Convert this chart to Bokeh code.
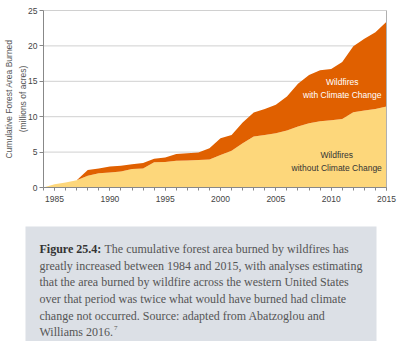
from bokeh.plotting import figure
from bokeh.models import ColumnDataSource, Range1d, FixedTicker, LinearAxis
from bokeh.embed import file_html
from bokeh.resources import INLINE
from bokeh.core.properties import value

# ---- data (millions of acres, cumulative) ----
years = list(range(1984, 2016))
without_cc = [0, 0.47, 0.7, 1.04, 1.65, 2.0, 2.13, 2.27, 2.6, 2.7, 3.55, 3.6,
              3.78, 3.83, 3.88, 3.97, 4.58, 5.2, 6.24, 7.19, 7.42, 7.66, 8.04,
              8.6, 9.08, 9.36, 9.5, 9.69, 10.64, 10.87, 11.1, 11.44]
with_cc = [0, 0.47, 0.7, 1.04, 2.46, 2.7, 2.98, 3.07, 3.3, 3.45, 4.07, 4.25,
           4.73, 4.82, 4.96, 5.53, 6.95, 7.42, 9.17, 10.6, 11.1, 11.7, 12.86,
           14.65, 15.9, 16.55, 16.74, 17.73, 19.95, 21.0, 21.94, 23.4]
y_ticks = [0, 5, 10, 15, 20, 25]
x_ticks = [1985, 1990, 1995, 2000, 2005, 2010, 2015]
series_labels = ["Wildfires\nwithout Climate Change", "Wildfires\nwith Climate Change"]

caption_head = "Figure 25.4:"
caption_lines = [
    "The cumulative forest area burned by wildfires has",
    "greatly increased between 1984 and 2015, with analyses estimating",
    "that the area burned by wildfire across the western United States",
    "over that period was twice what would have burned had climate",
    "change not occurred. Source: adapted from Abatzoglou and",
    "Williams 2016.",
]
caption_note = "7"

extra = [t - w for t, w in zip(with_cc, without_cc)]
src = ColumnDataSource(dict(year=years, without=without_cc, extra=extra))

# chart box geometry in canvas pixels
W, H = 400, 341
FL, FR, FT, FB = 43, 386, 10, 187
X0, X1, Y0, Y1 = years[0], years[-1], y_ticks[0], y_ticks[-1]
SX = (X1 - X0) / (FR - FL)
SY = (Y1 - Y0) / (FB - FT)

def dx(px):
    return X0 + (px - FL) * SX

def dy(py):
    return Y0 + (FB - py) * SY

p = figure(width=W, height=H,
           x_range=Range1d(dx(0), dx(W)), y_range=Range1d(dy(H), dy(0)),
           x_axis_location=None, y_axis_location=None,
           output_backend="svg", toolbar_location=None,
           min_border=0, min_border_left=0, min_border_right=0,
           min_border_top=0, min_border_bottom=0)
p.grid.visible = False
p.outline_line_color = None
p.background_fill_color = "white"
p.border_fill_color = "white"

# grid lines (behind the areas)
p.segment(x0=[X0] * 5, x1=[X1] * 5, y0=y_ticks[1:], y1=y_ticks[1:],
          line_color="#d0d0d0", line_width=1)
p.varea_stack(["without", "extra"], x="year", source=src, color=["#FDD77B", "#E06000"])
# right border of the chart box
p.segment(x0=[X1], x1=[X1], y0=[Y0], y1=[Y1], line_color="#b0b0b0", line_width=1)

SANS = "Liberation Sans"
xaxis = LinearAxis(fixed_location=Y0, bounds=(X0, X1),
                   ticker=FixedTicker(ticks=x_ticks, minor_ticks=years))
yaxis = LinearAxis(fixed_location=X0, bounds=(Y0, Y1),
                   ticker=FixedTicker(ticks=y_ticks))
for ax in (xaxis, yaxis):
    ax.axis_line_color = "#888888"
    ax.major_tick_line_color = "#888888"
    ax.minor_tick_line_color = "#888888"
    ax.major_tick_in = 0
    ax.minor_tick_in = 0
    ax.major_label_text_font = SANS
    ax.major_label_text_font_size = "8.5px"
    ax.major_label_text_color = "#444444"
xaxis.major_tick_out = 3
xaxis.minor_tick_out = 3
xaxis.major_label_standoff = 5
yaxis.major_tick_out = 4
yaxis.minor_tick_out = 0
yaxis.major_label_standoff = 2
yaxis.axis_label = "Cumulative Forest Area Burned\n(millions of acres)"
yaxis.axis_label_text_font = SANS
yaxis.axis_label_text_font_size = "8.5px"
yaxis.axis_label_text_font_style = "normal"
yaxis.axis_label_text_color = "#555555"
yaxis.axis_label_text_line_height = 1.4
yaxis.axis_label_standoff = -3
p.add_layout(xaxis, "below")
p.add_layout(yaxis, "left")

p.text(x=[2010.5], y=[3.7], text=[series_labels[0]], text_align="center",
       text_baseline="middle", text_font=value(SANS), text_font_size="8.5px",
       text_color="#333333", text_line_height=1.3)
p.text(x=[2011.0], y=[14.0], text=[series_labels[1]], text_align="center",
       text_baseline="middle", text_font=value(SANS), text_font_size="8.5px",
       text_color="#ffffff", text_line_height=1.3)

# ---- caption panel ----
p.quad(left=[dx(25)], right=[dx(376)], top=[dy(226)], bottom=[dy(H + 5)],
       fill_color="#DCE0E6", line_color=None)
line_y = [248, 265, 281, 298, 315, 331]
line_x = [104, 39, 39, 39, 39, 39]
SERIF = value("Liberation Serif")
p.text(x=[dx(v) for v in line_x], y=[dy(v) for v in line_y], text=caption_lines,
       text_baseline="middle", text_font=SERIF, text_font_size="12px",
       text_color="#555555")
p.text(x=[dx(39)], y=[dy(248)], text=[caption_head], text_baseline="middle",
       text_font=SERIF, text_font_size="12px", text_font_style="bold",
       text_color="#333333")
p.text(x=[dx(113.5)], y=[dy(327)], text=[caption_note], text_baseline="middle",
       text_font=SERIF, text_font_size="7px", text_color="#555555")

open("out.html", "w").write(file_html(p, INLINE))
